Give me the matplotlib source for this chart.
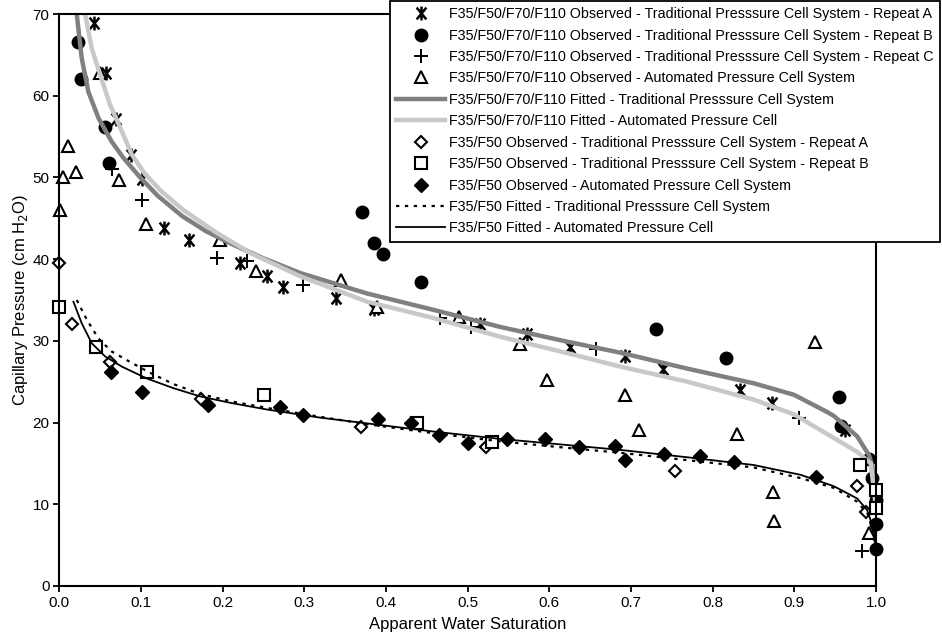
import matplotlib
matplotlib.use("Agg")
import matplotlib.pyplot as plt
from matplotlib.path import Path

plt.rcParams["font.family"] = ["Liberation Sans", "DejaVu Sans"]

# F35/F50/F70/F110 observed, traditional cell, repeat A
trad_a_sw = [0.0429, 0.0572, 0.0695, 0.0879, 0.101, 0.1287, 0.159, 0.2206, 0.254, 0.2738,
             0.339, 0.3857, 0.5156, 0.5728, 0.625, 0.6932, 0.7394, 0.834, 0.873, 0.9616]
trad_a_pc = [68.95, 62.8, 57.2, 52.7, 49.8, 43.8, 42.3, 39.5, 37.9, 36.6,
             35.2, 33.9, 32.1, 30.8, 29.2, 28.1, 26.5, 24.0, 22.4, 19.1]

# repeat B
trad_b_sw = [0.0225, 0.0262, 0.056, 0.0613, 0.371, 0.3848, 0.396, 0.443, 0.730, 0.816,
             0.9547, 0.9567, 0.9914, 0.995, 0.9997, 1.0, 1.0]
trad_b_pc = [66.6, 62.0, 56.2, 51.8, 45.8, 42.0, 40.6, 37.2, 31.5, 27.9,
             23.1, 19.6, 15.5, 13.2, 10.5, 7.6, 4.5]

# repeat C
trad_c_sw = [0.065, 0.101, 0.193, 0.2296, 0.298, 0.4665, 0.504, 0.6565, 0.9056, 0.983]
trad_c_pc = [51.0, 47.2, 40.2, 39.8, 36.8, 32.8, 31.7, 29.0, 20.5, 4.3]

# automated cell, F35/F50/F70/F110
auto_sw = [0.0103, 0.0049, 0.020, 0.0009, 0.0499, 0.0735, 0.1059, 0.197, 0.2407, 0.345,
           0.389, 0.489, 0.5646, 0.597, 0.692, 0.7096, 0.925, 0.830, 0.8738, 0.875, 0.9914]
auto_pc = [53.8, 50.1, 50.7, 46.0, 62.8, 49.7, 44.3, 42.4, 38.6, 37.5,
           34.2, 32.9, 29.6, 25.2, 23.4, 19.1, 29.8, 18.6, 11.5, 8.0, 6.5]

# fitted curves, F35/F50/F70/F110
fit_trad_sw = [0.0213, 0.0274, 0.0355, 0.0478, 0.064, 0.0784, 0.099, 0.12, 0.15, 0.18,
               0.21, 0.25, 0.295, 0.3767, 0.458, 0.540, 0.6218, 0.687, 0.769, 0.8505,
               0.8995, 0.94, 0.9485, 0.977, 0.9914, 0.998, 1.0]
fit_trad_pc = [70.0, 64.6, 60.5, 57.3, 54.4, 52.4, 50.0, 47.8, 45.3, 43.4,
               41.9, 40.1, 38.3, 35.8, 33.8, 31.7, 29.9, 28.55, 26.6, 24.8,
               23.4, 21.3, 20.8, 18.3, 16.0, 13.8, 11.5]
fit_auto_sw = [0.0315, 0.0397, 0.0499, 0.0621, 0.0765, 0.0887, 0.105, 0.125, 0.152, 0.193,
               0.235, 0.295, 0.3767, 0.458, 0.540, 0.6218, 0.687, 0.769, 0.8505, 0.8995,
               0.9485, 0.977, 0.9935, 1.0]
fit_auto_pc = [70.0, 65.8, 62.6, 58.9, 55.65, 52.8, 50.4, 48.3, 46.0, 43.2,
               40.7, 37.9, 34.8, 32.8, 30.5, 28.5, 26.85, 25.0, 22.8, 21.0,
               18.1, 16.4, 15.0, 9.5]

# F35/F50 observed
f50_trad_a_sw = [0.0, 0.0152, 0.0621, 0.1737, 0.369, 0.523, 0.7533, 0.977, 0.988]
f50_trad_a_pc = [39.5, 32.1, 27.45, 22.85, 19.4, 17.05, 14.1, 12.2, 9.1]
f50_trad_b_sw = [0.0, 0.0446, 0.107, 0.251, 0.438, 0.530, 0.980, 1.0, 1.0]
f50_trad_b_pc = [34.1, 29.3, 26.2, 23.4, 20.0, 17.6, 14.8, 11.75, 9.5]
f50_auto_sw = [0.063, 0.101, 0.1826, 0.2705, 0.298, 0.3897, 0.431, 0.4645, 0.5, 0.548,
               0.595, 0.636, 0.680, 0.693, 0.740, 0.784, 0.826, 0.927]
f50_auto_pc = [26.15, 23.7, 22.15, 21.95, 20.9, 20.4, 19.9, 18.5, 17.5, 18.0,
               17.95, 17.05, 17.1, 15.4, 16.1, 15.95, 15.2, 13.3]

# fitted curves, F35/F50
fit50_trad_sw = [0.0213, 0.0336, 0.0478, 0.064, 0.0887, 0.113, 0.14, 0.1724, 0.21, 0.254,
                 0.3195, 0.3767, 0.458, 0.540, 0.6218, 0.687, 0.769, 0.8505, 0.9077, 0.9485,
                 0.977, 0.99, 0.997, 1.0]
fit50_trad_pc = [35.0, 32.6, 30.3, 28.7, 27.3, 26.0, 24.7, 23.5, 22.6, 21.8,
                 20.7, 19.8, 18.7, 17.7, 16.9, 16.3, 15.4, 14.5, 13.2, 12.0,
                 10.3, 8.8, 6.5, 4.0]
fit50_auto_sw = [0.0172, 0.0274, 0.0397, 0.056, 0.0765, 0.107, 0.14, 0.1724, 0.21, 0.254,
                 0.3195, 0.3767, 0.458, 0.540, 0.6218, 0.687, 0.769, 0.8505, 0.9077, 0.9485,
                 0.977, 0.989, 0.997, 1.0]
fit50_auto_pc = [34.8, 32.15, 29.7, 28.1, 26.85, 25.4, 24.2, 23.2, 22.4, 21.6,
                 20.6, 19.9, 18.9, 18.0, 17.25, 16.65, 15.75, 14.8, 13.6, 12.2,
                 10.7, 9.3, 7.0, 4.0]

# asterisk drawn as an X crossed by a vertical stroke
star = Path([(-0.7, -0.85), (0.7, 0.85), (-0.7, 0.85), (0.7, -0.85), (0, -1), (0, 1)],
            [Path.MOVETO, Path.LINETO, Path.MOVETO, Path.LINETO, Path.MOVETO, Path.LINETO])

fig = plt.figure(figsize=(9.42, 6.39), dpi=100)
ax = fig.add_axes([0.063, 0.083, 0.867, 0.895])

kw = dict(linestyle="none", clip_on=False)
ax.plot(trad_a_sw, trad_a_pc, marker=star, markersize=10, markeredgewidth=1.8,
        markerfacecolor="none", color="black",
        label="F35/F50/F70/F110 Observed - Traditional Presssure Cell System - Repeat A", **kw)
ax.plot(trad_b_sw, trad_b_pc, marker="o", markersize=9, color="black",
        label="F35/F50/F70/F110 Observed - Traditional Presssure Cell System - Repeat B", **kw)
ax.plot(trad_c_sw, trad_c_pc, marker="+", markersize=10, markeredgewidth=1.4, color="black",
        label="F35/F50/F70/F110 Observed - Traditional Presssure Cell System - Repeat C", **kw)
ax.plot(auto_sw, auto_pc, marker="^", markersize=8.5, markerfacecolor="white",
        markeredgecolor="black", markeredgewidth=1.5,
        label="F35/F50/F70/F110 Observed - Automated Pressure Cell System", **kw)
ax.plot(fit_trad_sw, fit_trad_pc, color="#808080", linewidth=3.2,
        label="F35/F50/F70/F110 Fitted - Traditional Presssure Cell System")
ax.plot(fit_auto_sw, fit_auto_pc, color="#c8c8c8", linewidth=3.2,
        label="F35/F50/F70/F110 Fitted - Automated Pressure Cell")
ax.plot(f50_trad_a_sw, f50_trad_a_pc, marker="D", markersize=6, markerfacecolor="white",
        markeredgecolor="black", markeredgewidth=1.5,
        label="F35/F50 Observed - Traditional Presssure Cell System - Repeat A", **kw)
ax.plot(f50_trad_b_sw, f50_trad_b_pc, marker="s", markersize=8, markerfacecolor="white",
        markeredgecolor="black", markeredgewidth=1.5,
        label="F35/F50 Observed - Traditional Presssure Cell System - Repeat B", **kw)
ax.plot(f50_auto_sw, f50_auto_pc, marker="D", markersize=7, color="black",
        label="F35/F50 Observed - Automated Pressure Cell System", **kw)
ax.plot(fit50_trad_sw, fit50_trad_pc, color="black", linewidth=1.6, linestyle=(0, (1.5, 2.5)),
        label="F35/F50 Fitted - Traditional Presssure Cell System")
ax.plot(fit50_auto_sw, fit50_auto_pc, color="black", linewidth=1.3,
        label="F35/F50 Fitted - Automated Pressure Cell")

ax.set_xlim(0, 1)
ax.set_ylim(0, 70)
ax.set_xticks([i / 10 for i in range(11)])
ax.set_xticklabels([f"{i / 10:.1f}" for i in range(11)])
ax.set_yticks(range(0, 71, 10))
for side in ax.spines.values():
    side.set_linewidth(1.5)
    side.set_color("black")
ax.tick_params(direction="out", length=4, width=1.3, labelsize=11, colors="black", pad=3)
ax.set_xlabel("Apparent Water Saturation", fontsize=12, labelpad=5)
ax.set_ylabel("Capillary Pressure (cm H$_2$O)", fontsize=12, labelpad=2)

leg = fig.legend(loc="upper right", bbox_to_anchor=(0.998, 0.999), fontsize=10.3,
                 frameon=True, fancybox=False, edgecolor="black", framealpha=1,
                 handlelength=3.4, handletextpad=0.3, labelspacing=0.52,
                 borderpad=0.45, borderaxespad=0)
leg.get_frame().set_linewidth(1.3)

fig.savefig("out.png", dpi=100)
plt.close(fig)
